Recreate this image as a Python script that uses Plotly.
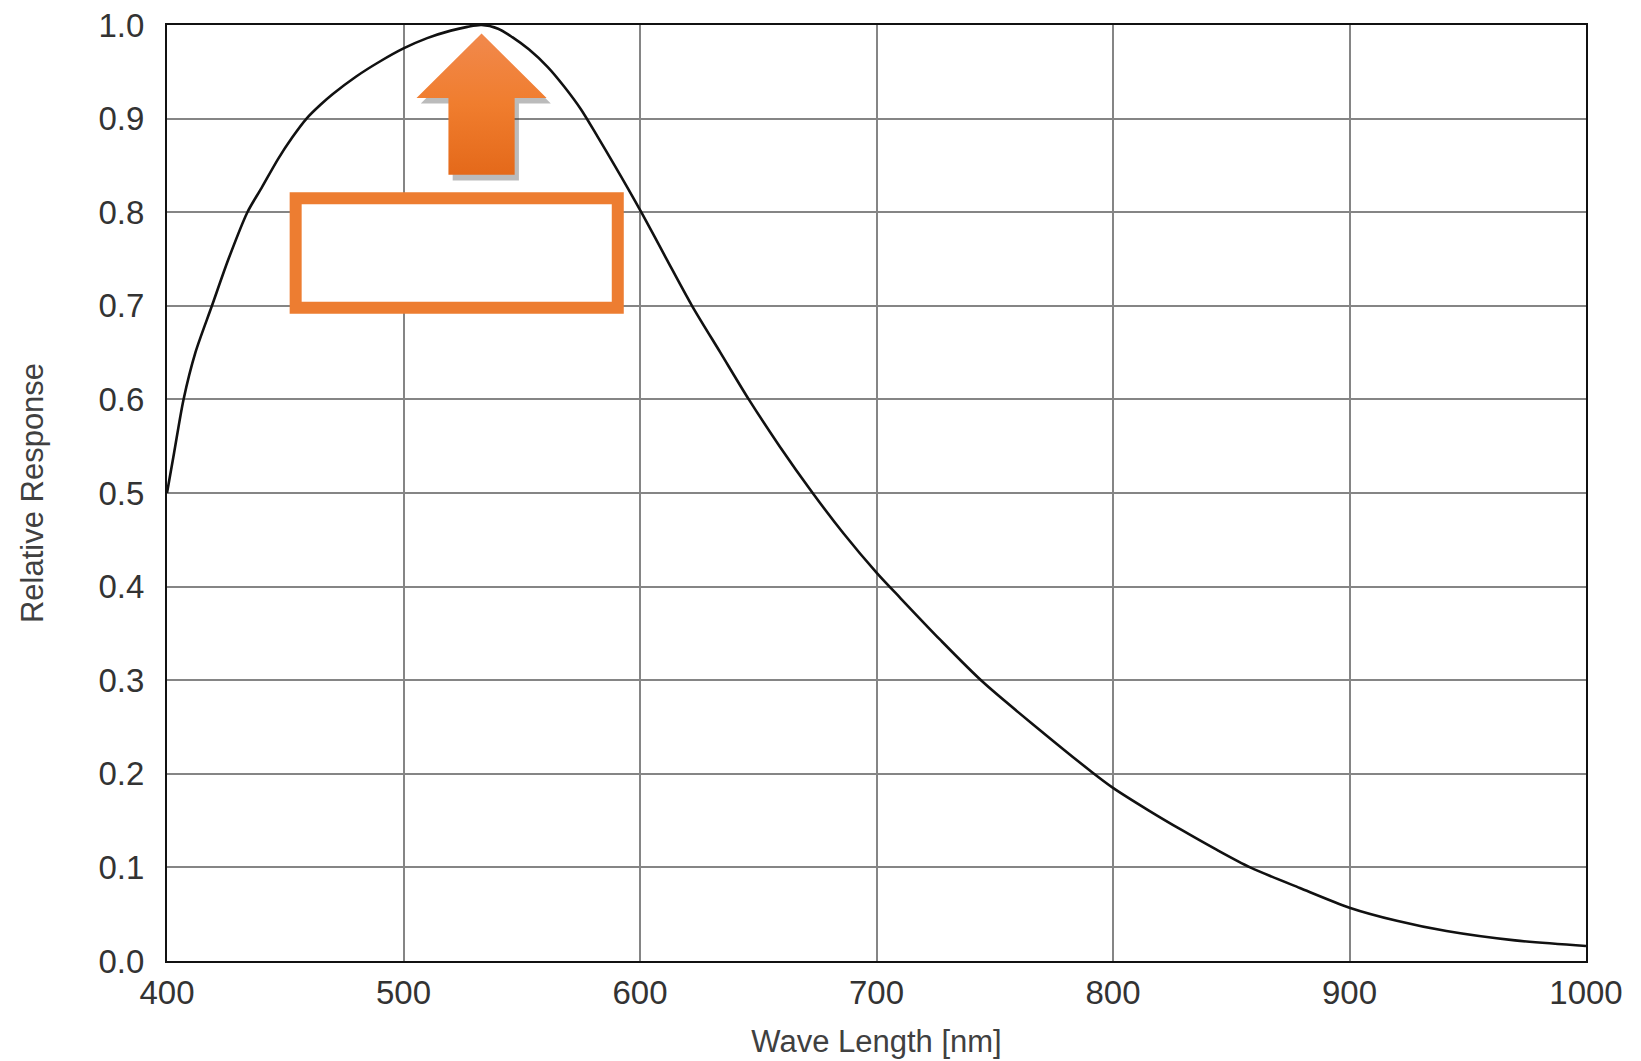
import plotly.graph_objects as go

# Spectral response curve of the sensor (wavelength in nm, normalised response)
wavelength_nm = [400, 403, 407, 412, 419, 426, 434, 440, 447, 453, 459, 465, 470, 480,
                 490, 500, 510, 520, 527, 533, 540, 546, 553, 561, 568, 575, 582, 589,
                 595, 601, 611, 622, 634, 646, 659, 673, 686, 700, 710, 727, 745,
                 768, 791, 800, 815, 829, 843, 858, 879, 900, 920, 941, 970, 1000]
relative_response = [0.50, 0.543, 0.60, 0.65, 0.70, 0.75, 0.80, 0.826, 0.857, 0.880,
                     0.90, 0.915, 0.926, 0.945, 0.961, 0.975, 0.986, 0.994, 0.998, 1.0,
                     0.996, 0.987, 0.974, 0.955, 0.934, 0.910, 0.881, 0.851, 0.825, 0.798,
                     0.751, 0.70, 0.65, 0.60, 0.55, 0.50, 0.457, 0.415, 0.388, 0.343,
                     0.298, 0.249, 0.202, 0.185, 0.161, 0.140, 0.120, 0.10, 0.078, 0.057,
                     0.043, 0.032, 0.022, 0.016]

x_ticks = [400, 500, 600, 700, 800, 900, 1000]
y_ticks = [0.0, 0.1, 0.2, 0.3, 0.4, 0.5, 0.6, 0.7, 0.8, 0.9, 1.0]

x_title = "Wave Length [nm]"
y_title = "Relative Response"

FONT = "Liberation Sans, Arial, Helvetica, sans-serif"
ORANGE = "#ED7D31"

# Peak-marker arrow, centred on the wavelength of maximum response
peak_wl = wavelength_nm[relative_response.index(max(relative_response))]
head_half, shaft_half = 27.5, 14.0
tip_y, head_base_y, shaft_bottom_y = 0.991, 0.922, 0.840
arrow_x = [peak_wl, peak_wl + head_half, peak_wl + shaft_half, peak_wl + shaft_half,
           peak_wl - shaft_half, peak_wl - shaft_half, peak_wl - head_half, peak_wl]
arrow_y = [tip_y, head_base_y, head_base_y, shaft_bottom_y,
           shaft_bottom_y, head_base_y, head_base_y, tip_y]
shadow_dx, shadow_dy = 1.8, -0.006

fig = go.Figure()

# soft drop shadow behind the arrow
fig.add_trace(go.Scatter(
    x=[v + shadow_dx for v in arrow_x], y=[v + shadow_dy for v in arrow_y],
    mode="lines", fill="toself", line=dict(width=0, color="rgba(0,0,0,0)"),
    fillcolor="rgba(60,60,60,0.35)", hoverinfo="skip", showlegend=False,
))
# arrow with vertical orange gradient
fig.add_trace(go.Scatter(
    x=arrow_x, y=arrow_y, mode="lines", fill="toself",
    line=dict(width=0, color="rgba(0,0,0,0)"),
    fillgradient=dict(type="vertical",
                      colorscale=[[0, "#E4691A"], [0.5, "#F07D2E"], [1, "#F1894D"]]),
    hoverinfo="skip", showlegend=False,
))
# response curve
fig.add_trace(go.Scatter(
    x=wavelength_nm, y=relative_response, mode="lines",
    line=dict(color="#111111", width=2.6, shape="spline", smoothing=0.8),
    showlegend=False,
))

# empty highlight frame
fig.add_shape(type="rect", xref="x", yref="y", x0=454.4, x1=590.6, y0=0.698, y1=0.815,
              line=dict(color=ORANGE, width=12), fillcolor="white", layer="above")

axis_common = dict(
    showgrid=True, gridcolor="#858585", gridwidth=2,
    showline=True, linecolor="#111111", linewidth=2, mirror=True,
    zeroline=False, ticks="", automargin=False,
    tickfont=dict(family=FONT, size=33, color="#333333"),
)

fig.update_layout(
    width=1641, height=1061, autosize=False,
    margin=dict(l=167, r=55, t=25, b=100),
    paper_bgcolor="white", plot_bgcolor="white",
    xaxis=dict(range=[400, 1000], tickvals=x_ticks, ticklabelstandoff=1,
               title=dict(text=x_title, standoff=21,
                          font=dict(family=FONT, size=31, color="#404040")),
               **axis_common),
    yaxis=dict(range=[0, 1], tickvals=y_ticks, tickformat=".1f", ticklabelstandoff=14,
               title=dict(text=y_title, standoff=46,
                          font=dict(family=FONT, size=31, color="#404040")),
               **axis_common),
)

fig.write_html("out.html")
